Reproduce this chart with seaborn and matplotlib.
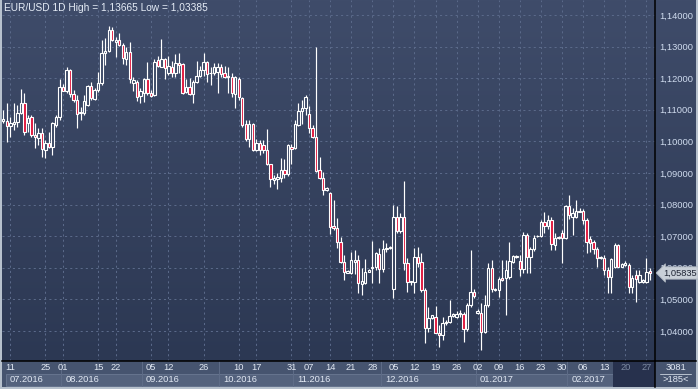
import numpy as np
import pandas as pd
import matplotlib
matplotlib.use("Agg")
import matplotlib.pyplot as plt
import seaborn as sns
from matplotlib.patches import Rectangle
from matplotlib.colors import LinearSegmentedColormap, Normalize
from matplotlib.ticker import FixedLocator, FuncFormatter

# ---------------- data (EUR/USD daily candles) ----------------
opens = [1.1066, 1.1064, 1.1049, 1.1055, 1.1061, 1.1089, 1.1121, 1.1057, 1.1078, 1.1020,
         1.1010, 1.1026, 1.0973, 1.0994, 1.0983, 1.1052, 1.1078, 1.1171, 1.1161, 1.1226,
         1.1150, 1.1131, 1.1089, 1.1089, 1.1115, 1.1175, 1.1135, 1.1163, 1.1184, 1.1279,
         1.1287, 1.1353, 1.1313, 1.1321, 1.1305, 1.1260, 1.1284, 1.1186, 1.1189, 1.1144,
         1.1152, 1.1196, 1.1154, 1.1147, 1.1258, 1.1237, 1.1260, 1.1217, 1.1237, 1.1217,
         1.1249, 1.1245, 1.1157, 1.1173, 1.1150, 1.1189, 1.1207, 1.1226, 1.1252, 1.1215,
         1.1217, 1.1221, 1.1237, 1.1215, 1.1207, 1.1205, 1.1150, 1.1196, 1.1136, 1.1055,
         1.1007, 1.1055, 1.0973, 1.0996, 1.0990, 1.0973, 1.0927, 1.0877, 1.0881, 1.0885,
         1.0909, 1.0896, 1.0983, 1.0980, 1.1052, 1.1096, 1.1105, 1.1086, 1.1043, 1.1015,
         1.0909, 1.0883, 1.0846, 1.0836, 1.0733, 1.0725, 1.0680, 1.0619, 1.0585, 1.0585,
         1.0619, 1.0624, 1.0550, 1.0551, 1.0588, 1.0598, 1.0604, 1.0643, 1.0596, 1.0659,
         1.0661, 1.0532, 1.0761, 1.0717, 1.0761, 1.0614, 1.0556, 1.0556, 1.0633, 1.0619,
         1.0529, 1.0408, 1.0440, 1.0445, 1.0395, 1.0386, 1.0424, 1.0429, 1.0447, 1.0445,
         1.0453, 1.0453, 1.0405, 1.0482, 1.0524, 1.0458, 1.0458, 1.0397, 1.0482, 1.0598,
         1.0530, 1.0530, 1.0569, 1.0569, 1.0572, 1.0619, 1.0633, 1.0622, 1.0597, 1.0704,
         1.0633, 1.0659, 1.0699, 1.0701, 1.0746, 1.0732, 1.0751, 1.0673, 1.0693, 1.0711,
         1.0693, 1.0794, 1.0760, 1.0760, 1.0777, 1.0781, 1.0751, 1.0690, 1.0683, 1.0659,
         1.0630, 1.0630, 1.0593, 1.0572, 1.0601, 1.0672, 1.0604, 1.0609, 1.0609, 1.0540,
         1.0577, 1.0556, 1.0556, 1.0556, 1.0591]
highs = [1.1100, 1.1121, 1.1078, 1.1123, 1.1115, 1.1165, 1.1152, 1.1083, 1.1083, 1.1057,
         1.1041, 1.1041, 1.1004, 1.1031, 1.1062, 1.1083, 1.1199, 1.1181, 1.1237, 1.1228,
         1.1163, 1.1147, 1.1110, 1.1147, 1.1178, 1.1189, 1.1168, 1.1221, 1.1321, 1.1326,
         1.13665, 1.1363, 1.1331, 1.1342, 1.1310, 1.1300, 1.1316, 1.1205, 1.1194, 1.1168,
         1.1200, 1.1251, 1.1163, 1.1260, 1.1270, 1.1325, 1.1263, 1.1270, 1.1256, 1.1277,
         1.1281, 1.1247, 1.1196, 1.1200, 1.1194, 1.1255, 1.1239, 1.1279, 1.1255, 1.1237,
         1.1249, 1.1247, 1.1245, 1.1239, 1.1234, 1.1215, 1.1207, 1.1203, 1.1139, 1.1068,
         1.1068, 1.1057, 1.1007, 1.1005, 1.1005, 1.1038, 1.0930, 1.0894, 1.0899, 1.0946,
         1.0944, 1.0991, 1.0991, 1.1068, 1.1120, 1.1131, 1.1147, 1.1113, 1.1052, 1.1300,
         1.0952, 1.0904, 1.0857, 1.0841, 1.0814, 1.0759, 1.0698, 1.0640, 1.0593, 1.0651,
         1.0655, 1.0640, 1.0598, 1.0628, 1.0595, 1.0685, 1.0651, 1.0664, 1.0688, 1.0677,
         1.0670, 1.0798, 1.0795, 1.0772, 1.0874, 1.0630, 1.0559, 1.0664, 1.0666, 1.0646,
         1.0535, 1.0475, 1.0452, 1.0479, 1.0418, 1.0445, 1.0435, 1.0498, 1.0458, 1.0464,
         1.0466, 1.0461, 1.0487, 1.0656, 1.0532, 1.0468, 1.0487, 1.0513, 1.0614, 1.0624,
         1.0536, 1.0572, 1.0624, 1.0624, 1.0682, 1.0640, 1.0640, 1.0640, 1.0714, 1.0709,
         1.0667, 1.0704, 1.0704, 1.0751, 1.0775, 1.0767, 1.0762, 1.0709, 1.0699, 1.0720,
         1.0799, 1.0830, 1.0788, 1.0814, 1.0788, 1.0785, 1.0757, 1.0700, 1.0688, 1.0667,
         1.0638, 1.0641, 1.0601, 1.0630, 1.0678, 1.0675, 1.0614, 1.0620, 1.0614, 1.0577,
         1.0593, 1.0593, 1.0564, 1.0630, 1.0598]
lows = [1.1057, 1.0999, 1.1015, 1.1036, 1.1047, 1.1087, 1.1020, 1.1031, 1.1015, 1.0978,
        1.0989, 1.0952, 1.0948, 1.0978, 1.0957, 1.1047, 1.1068, 1.1158, 1.1154, 1.1142,
        1.1126, 1.1043, 1.1068, 1.1083, 1.1112, 1.1131, 1.1131, 1.1157, 1.1178, 1.1242,
        1.1284, 1.1319, 1.1268, 1.1302, 1.1245, 1.1242, 1.1184, 1.1160, 1.1129, 1.1123,
        1.1126, 1.1147, 1.1139, 1.1144, 1.1234, 1.1234, 1.1196, 1.1210, 1.1205, 1.1203,
        1.1215, 1.1150, 1.1154, 1.1147, 1.1123, 1.1186, 1.1203, 1.1207, 1.1189, 1.1179,
        1.1210, 1.1152, 1.1203, 1.1200, 1.1152, 1.1139, 1.1105, 1.1131, 1.1044, 1.1000,
        1.0983, 1.0968, 1.0968, 1.0957, 1.0962, 1.0925, 1.0857, 1.0865, 1.0849, 1.0873,
        1.0883, 1.0892, 1.0930, 1.0976, 1.1050, 1.1054, 1.1084, 1.1025, 1.1010, 1.0904,
        1.0881, 1.0830, 1.0843, 1.0706, 1.0720, 1.0661, 1.0614, 1.0561, 1.0583, 1.0579,
        1.0579, 1.0520, 1.0514, 1.0548, 1.0586, 1.0551, 1.0593, 1.0551, 1.0588, 1.0651,
        1.0659, 1.0503, 1.0709, 1.0711, 1.0593, 1.0524, 1.0545, 1.0521, 1.0603, 1.0524,
        1.0363, 1.0397, 1.0437, 1.0392, 1.0350, 1.0371, 1.0419, 1.0424, 1.0444, 1.0440,
        1.0445, 1.0366, 1.0401, 1.0477, 1.0505, 1.0455, 1.03385, 1.0392, 1.0476, 1.0524,
        1.0527, 1.0508, 1.0559, 1.0450, 1.0566, 1.0616, 1.0630, 1.0574, 1.0583, 1.0585,
        1.0585, 1.0654, 1.0697, 1.0697, 1.0709, 1.0722, 1.0656, 1.0656, 1.0690, 1.0616,
        1.0690, 1.0753, 1.0704, 1.0757, 1.0775, 1.0740, 1.0646, 1.0651, 1.0644, 1.0602,
        1.0628, 1.0577, 1.0521, 1.0519, 1.0598, 1.0601, 1.0601, 1.0605, 1.0520, 1.0519,
        1.0493, 1.0551, 1.0553, 1.0553, 1.0561]
closes = [1.1070, 1.1049, 1.1057, 1.1062, 1.1089, 1.1121, 1.1031, 1.1073, 1.1020, 1.1013,
          1.1026, 1.0975, 1.0994, 1.0983, 1.1057, 1.1076, 1.1171, 1.1161, 1.1226, 1.1150,
          1.1131, 1.1086, 1.1094, 1.1129, 1.1175, 1.1136, 1.1163, 1.1184, 1.1279, 1.1287,
          1.1353, 1.1321, 1.1321, 1.1305, 1.1263, 1.1284, 1.1196, 1.1194, 1.1142, 1.1161,
          1.1196, 1.1154, 1.1144, 1.1252, 1.1239, 1.1260, 1.1231, 1.1239, 1.1215, 1.1249,
          1.1242, 1.1152, 1.1173, 1.1150, 1.1189, 1.1207, 1.1226, 1.1252, 1.1213, 1.1217,
          1.1237, 1.1237, 1.1213, 1.1205, 1.1203, 1.1152, 1.1205, 1.1142, 1.1052, 1.1007,
          1.1055, 1.0973, 1.0994, 1.0973, 1.0973, 1.0927, 1.0881, 1.0883, 1.0888, 1.0909,
          1.0896, 1.0989, 1.0976, 1.1054, 1.1096, 1.1105, 1.1142, 1.1043, 1.1015, 1.0906,
          1.0883, 1.0846, 1.0854, 1.0730, 1.0725, 1.0680, 1.0619, 1.0588, 1.0590, 1.0624,
          1.0624, 1.0551, 1.0557, 1.0588, 1.0593, 1.0604, 1.0646, 1.0596, 1.0659, 1.0664,
          1.0667, 1.0761, 1.0717, 1.0761, 1.0614, 1.0556, 1.0559, 1.0633, 1.0616, 1.0529,
          1.0408, 1.0440, 1.0449, 1.0394, 1.0386, 1.0426, 1.0429, 1.0447, 1.0455, 1.0455,
          1.0457, 1.0405, 1.0482, 1.0524, 1.0510, 1.0462, 1.0397, 1.0482, 1.0598, 1.0532,
          1.0533, 1.0566, 1.0561, 1.0593, 1.0622, 1.0637, 1.0637, 1.0595, 1.0704, 1.0633,
          1.0659, 1.0693, 1.0701, 1.0746, 1.0732, 1.0751, 1.0675, 1.0693, 1.0696, 1.0693,
          1.0794, 1.0767, 1.0772, 1.0781, 1.0781, 1.0751, 1.0680, 1.0678, 1.0659, 1.0630,
          1.0635, 1.0593, 1.0572, 1.0627, 1.0672, 1.0604, 1.0612, 1.0614, 1.0540, 1.0567,
          1.0564, 1.0577, 1.0561, 1.0588, 1.05835]

day_tick_bars = [2, 12, 17, 27, 32, 42, 47, 57, 67, 72, 82, 87, 93, 99, 105, 111, 117,
                 123, 129, 135, 141, 147, 153, 159, 165, 171, 177, 183]
day_labels = ["11", "25", "01", "15", "22", "05", "12", "26", "10", "17", "31", "07", "14",
              "21", "28", "05", "12", "19", "26", "02", "09", "16", "23", "30", "06", "13",
              "20", "27"]
month_first_bar = [0, 17, 40, 62, 83, 108, 135, 161]
month_labels = ["07.2016", "08.2016", "09.2016", "10.2016", "11.2016", "12.2016",
                "01.2017", "02.2017"]
price_ticks = [1.04, 1.05, 1.06, 1.07, 1.08, 1.09, 1.10, 1.11, 1.12, 1.13, 1.14]
title_text = "EUR/USD 1D High = 1,13665 Low = 1,03385"
last_price = 1.05835
corner_top, corner_bottom = "3081", ">185<"
highlight_from_bar = 174

# ---------------- style ----------------
sns.set_theme(style="dark")
plt.rcParams["font.family"] = ["Liberation Sans", "DejaVu Sans"]

W, H = 698, 389
FS = 6.7
fig = plt.figure(figsize=(W / 100, H / 100), dpi=100, facecolor="#b7c1cd")


def box(x0, y0, x1, y1):
    return [x0 / W, 1 - y1 / H, (x1 - x0) / W, (y1 - y0) / H]


df = pd.DataFrame({"o": opens, "h": highs, "l": lows, "c": closes})
df["i"] = np.arange(len(df))

XMIN, XMAX = -0.37, 185.46
YMIN, YMAX = 1.03049, 1.14475

# background gradient (plot + price scale)
bg_cmap = LinearSegmentedColormap.from_list("bg", ["#2c3853", "#3f4c6a"])
bg = fig.add_axes(box(2, 0, 696, 361))
bg.imshow(np.linspace(0, 1, 256)[:, None][::-1], aspect="auto", cmap=bg_cmap,
          extent=[0, 1, 0, 1], interpolation="bilinear")
bg.set_axis_off()

ax = fig.add_axes(box(2, 0, 655, 361))
ax.set_zorder(3)
ax.patch.set_visible(False)
ax.set_xlim(XMIN, XMAX)
ax.set_ylim(YMIN, YMAX)

# grid
ax.set_xticks(day_tick_bars)
ax.yaxis.set_major_locator(FixedLocator(price_ticks))
ax.grid(True, color="#5a6989", lw=0.75, ls=(0, (2, 3)))
ax.tick_params(axis="x", length=0, labelbottom=False)
ax.yaxis.tick_right()
ax.yaxis.set_major_formatter(FuncFormatter(lambda v, p: f"{v:.5f}".replace(".", ",")))
ax.tick_params(axis="y", length=0, pad=3, labelsize=FS, labelcolor="#d0dcef")
for s in ["top", "left"]:
    ax.spines[s].set_visible(False)
for s in ["right", "bottom"]:
    ax.spines[s].set_color("#000000")
    ax.spines[s].set_linewidth(1.1)

# candles
up = df["c"] >= df["o"]
body_lo = np.minimum(df["o"], df["c"])
body_h = np.maximum((df["c"] - df["o"]).abs(), 0.00004)
norm = Normalize(YMIN, YMAX)
ax.vlines(df["i"], df["l"], df["h"], color="white", lw=0.85, zorder=2)
up_fc = [bg_cmap(norm((a + b) / 2)) for a, b in zip(df["o"][up], df["c"][up])]
ax.bar(df["i"][up], body_h[up], bottom=body_lo[up], width=0.68, color=up_fc,
       edgecolor="white", linewidth=0.8, zorder=3)
ax.bar(df["i"][~up], body_h[~up], bottom=body_lo[~up], width=0.68, color="#e0163c",
       edgecolor="white", linewidth=0.8, zorder=3)

# last price tag
ax.text(1.012, last_price, f"{last_price:.5f}".replace(".", ","),
        transform=ax.get_yaxis_transform(), ha="left", va="center", fontsize=FS,
        color="#1e2433", zorder=10, clip_on=False,
        bbox=dict(boxstyle="larrow,pad=0.18", fc="#c9d0d8", ec="#aab2bd", lw=0.6))

# title
fig.text(4 / W, 1 - 8 / H, title_text, fontsize=7.3, color="#e6edf7", va="center",
         ha="left", zorder=20)

# ---------------- bottom date strip ----------------
strip = fig.add_axes(box(2, 361, 655, 387))
strip.set_xlim(XMIN, XMAX)
strip.set_ylim(26, 0)
strip.set_facecolor("#46546f")
strip.set_xticks([])
strip.set_yticks([])
for s in strip.spines.values():
    s.set_visible(False)

edges = [b - 0.5 for b in month_first_bar] + [highlight_from_bar - 0.5]
edges[0] = 0.77
for k, lab in enumerate(month_labels):
    x0, x1 = edges[k], edges[k + 1]
    strip.add_patch(Rectangle((x0, 12.5), x1 - x0, 12.5, fc="#54627d", ec="#66748e",
                              lw=0.7, zorder=1))
    strip.text(x0 + 1.1, 19, lab, fontsize=FS, color="#e2e9f4", va="center", ha="left",
               zorder=3)
    if k > 0:
        strip.plot([x0, x0], [0, 26], color="#5e6c87", lw=0.7, zorder=1)

strip.add_patch(Rectangle((highlight_from_bar - 0.5, 0), XMAX - highlight_from_bar + 0.5, 26,
                          fc="#27314d", ec="none", zorder=2))

for b, lab in zip(day_tick_bars, day_labels):
    col = "#7d8aa2" if b >= highlight_from_bar else "#e2e9f4"
    strip.text(b, 6.5, lab, fontsize=FS, color=col, ha="center", va="center", zorder=4)

# corner box
corner = fig.add_axes(box(655, 361, 696, 387))
corner.set_xlim(0, 1)
corner.set_ylim(26, 0)
corner.set_facecolor("#46546f")
corner.set_xticks([])
corner.set_yticks([])
for s in corner.spines.values():
    s.set_visible(False)
for s in ["top", "left"]:
    corner.spines[s].set_visible(True)
    corner.spines[s].set_color("#000000")
    corner.spines[s].set_linewidth(1.1)
corner.text(0.5, 6.5, corner_top, fontsize=FS, color="#e2e9f4", ha="center", va="center")
corner.plot([0.12, 0.88], [12.5, 12.5], color="#b8c2d0", lw=0.7)
corner.text(0.5, 19, corner_bottom, fontsize=FS, color="#e2e9f4", ha="center", va="center")

fig.savefig("out.png", dpi=100, facecolor=fig.get_facecolor())
